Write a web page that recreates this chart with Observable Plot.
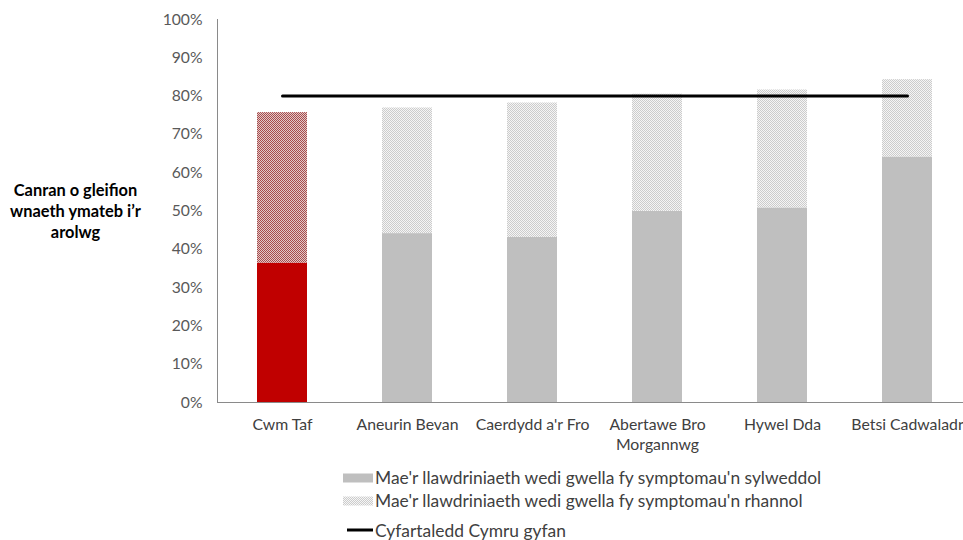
<!DOCTYPE html>
<html>
<head>
<meta charset="utf-8">
<script src="https://cdn.jsdelivr.net/npm/d3@7"></script>
<script src="https://cdn.jsdelivr.net/npm/@observablehq/plot@0.6"></script>
<style>
html, body { margin: 0; padding: 0; background: #fff; width: 963px; height: 540px; overflow: hidden; font-family: Lato, "Open Sans", sans-serif; }
#chart { position: absolute; left: 0; top: 0; }
.legend { position: absolute; left: 343px; top: 466px; font-size: 17.4px; color: #404040; }
.row { display: flex; align-items: center; height: 23px; white-space: nowrap; }
.row.last { height: 29px; align-items: flex-end; }
.row svg { margin-right: 2px; }
</style>
</head>
<body>
<svg width="0" height="0" style="position:absolute">
  <defs>
    <pattern id="patGrey" width="2" height="2" patternUnits="userSpaceOnUse">
      <rect width="2" height="2" fill="#f5f5f5"/>
      <rect x="0" y="0" width="1" height="1" fill="#cccccc"/>
      <rect x="1" y="1" width="1" height="1" fill="#cccccc"/>
    </pattern>
    <pattern id="patRed" width="2" height="2" patternUnits="userSpaceOnUse">
      <rect width="2" height="2" fill="#e2caca"/>
      <rect x="0" y="0" width="1" height="1" fill="#a84c4c"/>
      <rect x="1" y="1" width="1" height="1" fill="#a84c4c"/>
    </pattern>
  </defs>
</svg>
<div id="chart"></div>
<div class="legend" id="legend"></div>
<script>
// ---- data ----
const regions = ["Cwm Taf", "Aneurin Bevan", "Caerdydd a'r Fro", "Abertawe Bro Morgannwg", "Hywel Dda", "Betsi Cadwaladr"];
const xTickLabels = ["Cwm Taf", "Aneurin Bevan", "Caerdydd a'r Fro", "Abertawe Bro\nMorgannwg", "Hywel Dda", "Betsi Cadwaladr"];
const significant = [36.4, 44.1, 43.1, 49.9, 50.8, 64.1];   // sylweddol
const totalImproved = [75.7, 76.9, 78.2, 80.5, 81.6, 84.3]; // sylweddol + rhannol
const walesAverage = [80, 80, 80, 80, 80, 80];
const yTicks = [0, 10, 20, 30, 40, 50, 60, 70, 80, 90, 100];
const highlighted = "Cwm Taf";
const legendLabels = [
  "Mae'r llawdriniaeth wedi gwella fy symptomau'n sylweddol",
  "Mae'r llawdriniaeth wedi gwella fy symptomau'n rhannol",
  "Cyfartaledd Cymru gyfan"
];
const yTitle = "Canran o gleifion\nwnaeth ymateb i\u2019r\narolwg";

const rows = regions.map((r, i) => ({region: r, sig: significant[i], tot: totalImproved[i], avg: walesAverage[i], label: xTickLabels[i]}));
const labelOf = new Map(rows.map(d => [d.region, d.label]));

const yAxisLine = (index, scales, values, dims) => {
  const l = document.createElementNS("http://www.w3.org/2000/svg", "line");
  l.setAttribute("x1", dims.marginLeft + 0.5);
  l.setAttribute("x2", dims.marginLeft + 0.5);
  l.setAttribute("y1", dims.marginTop);
  l.setAttribute("y2", dims.height - dims.marginBottom);
  l.setAttribute("stroke", "#8a8a8a");
  return l;
};

const plot = Plot.plot({
  width: 963,
  height: 455,
  marginLeft: 217,
  marginRight: 0,
  marginTop: 19,
  marginBottom: 53,
  style: {fontFamily: "Lato, 'Open Sans', sans-serif", background: "transparent"},
  x: {domain: regions, range: [217, 971], paddingInner: 0.6, paddingOuter: 0.3, label: null},
  y: {domain: [0, 100], label: null},
  marks: [
    Plot.barY(rows, {filter: d => d.region !== highlighted, x: "region", y1: 0, y2: "sig", fill: "#bfbfbf"}),
    Plot.barY(rows, {filter: d => d.region !== highlighted, x: "region", y1: "sig", y2: "tot", fill: "url(#patGrey)"}),
    Plot.barY(rows, {filter: d => d.region === highlighted, x: "region", y1: 0, y2: "sig", fill: "#c00000"}),
    Plot.barY(rows, {filter: d => d.region === highlighted, x: "region", y1: "sig", y2: "tot", fill: "url(#patRed)"}),
    Plot.ruleY([0], {stroke: "#8a8a8a"}),
    yAxisLine,
    Plot.lineY(rows, {x: "region", y: "avg", stroke: "black", strokeWidth: 3}),
    Plot.axisY({ticks: yTicks, tickFormat: d => d + "%", tickSize: 0, tickPadding: 15, fontSize: 15.7, fill: "#595959", label: null}),
    Plot.axisX({tickFormat: d => labelOf.get(d), tickSize: 0, tickPadding: 13, fontSize: 15.8, fill: "#404040", label: null, lineHeight: 1.27}),
    Plot.text([yTitle], {frameAnchor: "left", dx: -142, dy: -1, text: d => d, fontWeight: "bold", fontSize: 16.4, fill: "#000", textAnchor: "middle", lineHeight: 1.3})
  ]
});
document.getElementById("chart").appendChild(plot);

// legend
const legend = document.getElementById("legend");
const swatches = [
  `<svg width="30" height="10"><rect width="30" height="9" y="0.5" fill="#bfbfbf"/></svg>`,
  `<svg width="30" height="10"><rect width="30" height="9" y="0.5" fill="url(#patGrey)"/></svg>`,
  `<svg width="30" height="10" style="margin-bottom:6px"><line x1="4" x2="30" y1="5" y2="5" stroke="black" stroke-width="3"/></svg>`
];
legendLabels.forEach((t, i) => {
  const row = document.createElement("div");
  row.className = "row" + (i === 2 ? " last" : "");
  row.innerHTML = swatches[i] + `<span>${t}</span>`;
  legend.appendChild(row);
});
</script>
</body>
</html>
